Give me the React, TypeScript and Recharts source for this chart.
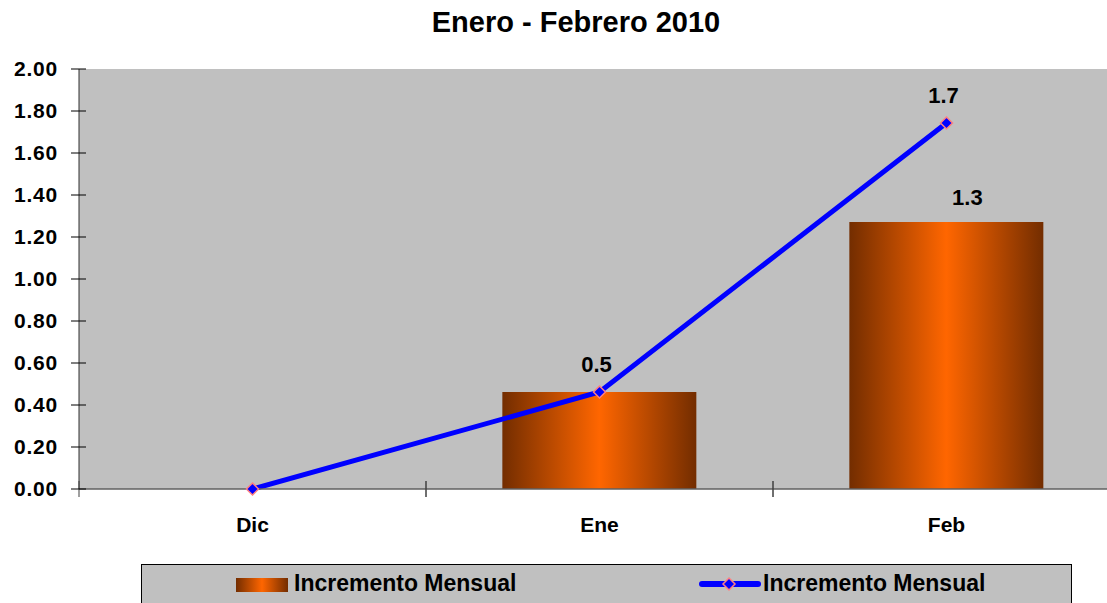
import { ComposedChart, Bar, Line, XAxis, YAxis, CartesianGrid, LabelList, Legend } from 'recharts';

const months = ['Dic', 'Ene', 'Feb'];
const barValues = [0, 0.462, 1.271];
const lineValues = [0, 0.462, 1.743];
const yTicks = [0, 0.2, 0.4, 0.6, 0.8, 1.0, 1.2, 1.4, 1.6, 1.8, 2.0];
const seriesName = 'Incremento Mensual';
const title = 'Enero - Febrero 2010';

const data = months.map((m, i) => ({ month: m, bar: barValues[i], line: lineValues[i] }));

const W = 1130;
const H = 603;
const PLOT_LEFT = 79;
const PLOT_RIGHT = 1120;
const PLOT_BOTTOM = 489;
const CAT_W = (PLOT_RIGHT - PLOT_LEFT) / months.length;
const FONT = 'Arial, "Liberation Sans", sans-serif';

function YTick(props: any) {
  const { y, payload } = props;
  return (
    <g>
      <line x1={PLOT_LEFT - 8} x2={PLOT_LEFT + 7} y1={y} y2={y} stroke="#000" strokeWidth={1} />
      <text x={58} y={y} dy={7} textAnchor="end" fontSize={21} letterSpacing={0.8} fontWeight="bold" fill="#000" fontFamily={FONT}>
        {Number(payload.value).toFixed(2)}
      </text>
    </g>
  );
}

function XTick(props: any) {
  const { x, payload } = props;
  return (
    <g>
      <line x1={x - CAT_W / 2} x2={x - CAT_W / 2} y1={PLOT_BOTTOM - 8} y2={PLOT_BOTTOM + 8} stroke="#404040" />
      <line x1={x + CAT_W / 2} x2={x + CAT_W / 2} y1={PLOT_BOTTOM - 8} y2={PLOT_BOTTOM + 8} stroke="#404040" />
      <text x={x} y={532} textAnchor="middle" fontSize={21} fontWeight="bold" fill="#000" fontFamily={FONT}>
        {payload.value}
      </text>
    </g>
  );
}

function Diamond(props: any) {
  const { cx, cy } = props;
  if (cx == null || cy == null) return null;
  const r = 6;
  return (
    <path
      d={`M${cx},${cy - r} L${cx + r},${cy} L${cx},${cy + r} L${cx - r},${cy} Z`}
      fill="#0000ff"
      stroke="#ff8080"
      strokeWidth={1.5}
    />
  );
}

function LineLabel(props: any) {
  const { x, y, value } = props;
  if (!value) return null;
  return (
    <text x={x - 3} y={y - 20} textAnchor="middle" fontSize={22} fontWeight="bold" fill="#000" fontFamily={FONT}>
      {Number(value).toFixed(1)}
    </text>
  );
}

function BarLabel(props: any) {
  const { x, y, width, value } = props;
  if (!value) return null;
  // skip where the line label already sits on the same spot
  if (lineValues.some((v) => Math.abs(v - value) < 0.05)) return null;
  return (
    <text x={x + width / 2 + 21} y={y - 17} textAnchor="middle" fontSize={22} fontWeight="bold" fill="#000" fontFamily={FONT}>
      {Number(value).toFixed(1)}
    </text>
  );
}

function LegendBox() {
  return (
    <div
      style={{
        width: 931,
        height: 45,
        boxSizing: 'border-box',
        background: '#c0c0c0',
        border: '1px solid #000',
        position: 'relative',
        fontFamily: FONT,
        fontWeight: 'bold',
        fontSize: 23,
        color: '#000',
      }}
    >
      <div style={{ position: 'absolute', left: 94, top: 13, width: 52, height: 14, background: 'linear-gradient(to right, #732d00, #ff6600 50%, #732d00)' }} />
      <span style={{ position: 'absolute', left: 152, top: 5, whiteSpace: 'nowrap' }}>{seriesName}</span>
      <svg style={{ position: 'absolute', left: 557, top: 11 }} width={62} height={16}>
        <line x1={3} x2={59} y1={8} y2={8} stroke="#0000ff" strokeWidth={6} strokeLinecap="round" />
        <path d="M30,2 L36,8 L30,14 L24,8 Z" fill="#0000ff" stroke="#ff8080" strokeWidth={1.5} />
      </svg>
      <span style={{ position: 'absolute', left: 621, top: 5, whiteSpace: 'nowrap' }}>{seriesName}</span>
    </div>
  );
}

export default function App() {
  return (
    <div style={{ position: 'absolute', left: 0, top: 0, width: 1107, height: 603, overflow: 'hidden', background: '#fff' }}>
      <div
        style={{
          position: 'absolute',
          left: 0,
          top: 6,
          width: 1152,
          textAlign: 'center',
          fontFamily: FONT,
          fontWeight: 'bold',
          fontSize: 29,
          color: '#000',
        }}
      >
        {title}
      </div>
      <ComposedChart width={W} height={H} data={data} margin={{ top: 69, right: W - PLOT_RIGHT, left: 0, bottom: 0 }} barCategoryGap="22%">
        <defs>
          <linearGradient id="barGradient" x1="0" y1="0" x2="1" y2="0">
            <stop offset="0%" stopColor="#732d00" />
            <stop offset="50%" stopColor="#ff6600" />
            <stop offset="100%" stopColor="#732d00" />
          </linearGradient>
        </defs>
        <CartesianGrid fill="#c0c0c0" horizontal={false} vertical={false} />
        <XAxis
          dataKey="month"
          height={H - PLOT_BOTTOM}
          axisLine={{ stroke: '#606060', strokeWidth: 1.5 }}
          tickLine={false}
          tick={<XTick />}
          interval={0}
        />
        <YAxis
          width={PLOT_LEFT}
          domain={[0, 2]}
          ticks={yTicks}
          axisLine={{ stroke: '#303030', strokeWidth: 1 }}
          tickLine={false}
          tick={<YTick />}
          interval={0}
        />
        <Legend
          layout="horizontal"
          verticalAlign="middle"
          align="center"
          wrapperStyle={{ position: 'absolute', left: 141, top: 564, width: 931, height: 45 }}
          content={() => <LegendBox />}
        />
        <Bar dataKey="bar" name={seriesName} fill="url(#barGradient)" isAnimationActive={false}>
          <LabelList dataKey="bar" content={<BarLabel />} />
        </Bar>
        <Line
          dataKey="line"
          name={seriesName}
          stroke="#0000ff"
          strokeWidth={5}
          type="linear"
          dot={<Diamond />}
          activeDot={false}
          isAnimationActive={false}
        >
          <LabelList dataKey="line" content={<LineLabel />} />
        </Line>
      </ComposedChart>
    </div>
  );
}
